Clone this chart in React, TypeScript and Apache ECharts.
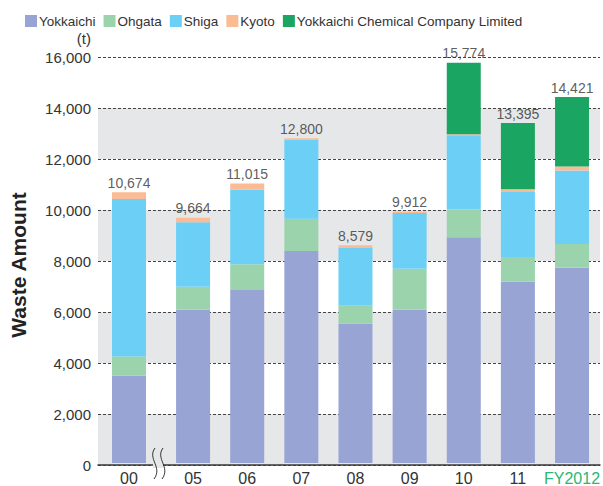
import React, { useEffect, useRef } from "react";
import * as echarts from "echarts";

const categories = ["00", "05", "06", "07", "08", "09", "10", "11", "FY2012"];
const seriesNames = ["Yokkaichi", "Ohgata", "Shiga", "Kyoto", "Yokkaichi Chemical Company Limited"];
const yokkaichi = [3450, 6040, 6820, 8350, 5490, 6040, 8900, 7140, 7690];
const ohgata = [750, 910, 1010, 1280, 710, 1620, 1100, 980, 940];
const shiga = [6200, 2540, 2950, 3115, 2270, 2195, 2915, 2585, 2900];
const kyoto = [274, 174, 235, 55, 109, 57, 40, 80, 155];
const chemical = [0, 0, 0, 0, 0, 0, 2819, 2610, 2736];
const totals = [10674, 9664, 11015, 12800, 8579, 9912, 15774, 13395, 14421];
const yTicks = [0, 2000, 4000, 6000, 8000, 10000, 12000, 14000, 16000];

const colors = ["#98a4d4", "#9bd3ac", "#6bcff6", "#fbbb94", "#1ba562"];
const FONT = "'Liberation Sans', Arial, Helvetica, sans-serif";
const TXT = "#333333";

export default function App() {
  const ref = useRef<HTMLDivElement>(null);
  useEffect(() => {
    if (!ref.current) return;
    const chart = echarts.init(ref.current, null, { renderer: "svg" });
    const values = [yokkaichi, ohgata, shiga, kyoto, chemical];
    const yMax = yTicks[yTicks.length - 1];
    const yStep = yTicks[1] - yTicks[0];

    const barSeries: any[] = [];
    values.forEach((arr, i) => {
      barSeries.push({
        name: seriesNames[i],
        type: "bar",
        stack: "first",
        xAxisIndex: 1,
        yAxisIndex: 1,
        barWidth: 34,
        itemStyle: { color: colors[i] },
        data: arr.slice(0, 1),
      });
      barSeries.push({
        name: seriesNames[i],
        type: "bar",
        stack: "rest",
        xAxisIndex: 2,
        yAxisIndex: 2,
        barWidth: 34,
        itemStyle: { color: colors[i] },
        data: arr.slice(1),
      });
    });
    const totalLabel = {
      show: true,
      position: "top",
      distance: 2,
      color: TXT,
      fontSize: 14,
      fontFamily: FONT,
      formatter: (p: any) => Number(p.value).toLocaleString("en-US"),
    };
    barSeries.push({
      type: "scatter",
      xAxisIndex: 1,
      yAxisIndex: 1,
      symbolSize: 1,
      itemStyle: { color: "rgba(0,0,0,0)" },
      label: totalLabel,
      data: totals.slice(0, 1),
      z: 5,
    });
    barSeries.push({
      type: "scatter",
      xAxisIndex: 2,
      yAxisIndex: 2,
      symbolSize: 1,
      itemStyle: { color: "rgba(0,0,0,0)" },
      label: totalLabel,
      data: totals.slice(1),
      z: 5,
    });

    const hiddenY = (gi: number) => ({
      type: "value",
      gridIndex: gi,
      min: 0,
      max: yMax,
      interval: yStep,
      show: false,
      splitLine: { show: false },
    });
    const catAxis = (gi: number, data: string[]) => ({
      type: "category",
      gridIndex: gi,
      data: data.map((c) =>
        c.startsWith("FY") ? { value: c, textStyle: { color: "#2bb673" } } : c
      ),
      axisLine: { show: false },
      axisTick: { show: false },
      axisLabel: { interval: 0, color: TXT, fontSize: 16, fontFamily: FONT, margin: 7 },
    });

    const option: any = {
      animation: false,
      textStyle: { fontFamily: FONT },
      legend: {
        data: seriesNames,
        left: 20,
        top: 9,
        itemWidth: 12,
        itemHeight: 12,
        itemGap: 8,
        icon: "rect",
        textStyle: { color: TXT, fontSize: 13.5, fontFamily: FONT, padding: [0, 0, 0, -3] },
        selectedMode: false,
      },
      grid: [
        { left: 98, right: 3, top: 57, bottom: 21 },
        { left: 98, width: 62, top: 57, bottom: 21 },
        { left: 166, right: 3, top: 57, bottom: 21 },
      ],
      xAxis: [
        {
          type: "value",
          gridIndex: 0,
          min: 0,
          max: 1,
          axisLine: { show: true, onZero: false, lineStyle: { color: "#3a3a3a", width: 1.5 } },
          axisTick: { show: false },
          axisLabel: { show: false },
          splitLine: { show: false },
        },
        catAxis(1, categories.slice(0, 1)),
        catAxis(2, categories.slice(1)),
      ],
      yAxis: [
        {
          type: "value",
          gridIndex: 0,
          min: 0,
          max: yMax,
          interval: yStep,
          axisLine: { show: false },
          axisTick: { show: false },
          axisLabel: {
            color: TXT,
            fontSize: 15,
            fontFamily: FONT,
            margin: 7,
            formatter: (v: number) => v.toLocaleString("en-US"),
          },
          splitLine: { show: true, lineStyle: { color: "#444", width: 1, type: [3, 2] } },
          splitArea: { show: true, areaStyle: { color: ["#e6e7e8", "#ffffff"] } },
        },
        hiddenY(1),
        hiddenY(2),
      ],
      graphic: [
        {
          type: "text",
          x: 91,
          y: 38,
          style: { text: "(t)", fill: TXT, fontSize: 15, fontFamily: FONT, textAlign: "right", textVerticalAlign: "middle" },
        },
        {
          type: "text",
          x: 18,
          y: 265,
          rotation: Math.PI / 2,
          style: {
            text: "Waste Amount",
            fill: "#222",
            fontSize: 21,
            fontWeight: "bold",
            fontFamily: FONT,
            textAlign: "center",
            textVerticalAlign: "middle",
          },
        },
        {
          type: "rect",
          shape: { x: 153, y: 462, width: 10, height: 6 },
          style: { fill: "#e6e7e8" },
          z: 100,
        },
        {
          type: "bezierCurve",
          shape: { x1: 155, y1: 448, cpx1: 147, cpy1: 459, cpx2: 163, cpy2: 467, x2: 154, y2: 479 },
          style: { stroke: "#333", lineWidth: 1, fill: null },
          z: 101,
        },
        {
          type: "bezierCurve",
          shape: { x1: 163, y1: 448, cpx1: 155, cpy1: 459, cpx2: 171, cpy2: 467, x2: 162, y2: 479 },
          style: { stroke: "#333", lineWidth: 1, fill: null },
          z: 101,
        },
      ],
      series: barSeries,
    };
    chart.setOption(option);
    return () => chart.dispose();
  }, []);
  return (
    <div
      ref={ref}
      style={{ position: "fixed", left: 0, top: 0, width: 603, height: 486, background: "#fff" }}
    />
  );
}
